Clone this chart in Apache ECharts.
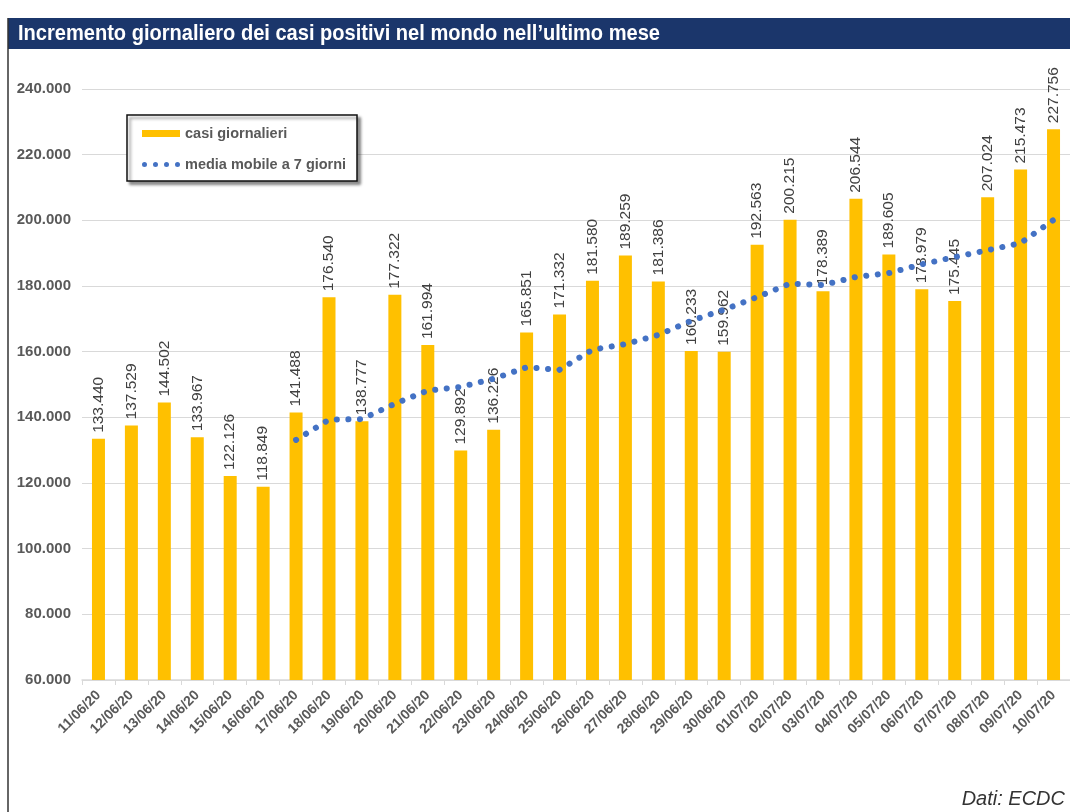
<!DOCTYPE html>
<html>
<head>
<meta charset="utf-8">
<script src="https://cdn.jsdelivr.net/npm/echarts@6/dist/echarts.min.js"></script>
<style>
  html, body { margin: 0; padding: 0; background: #fff; }
  #chart { width: 1070px; height: 812px; }
</style>
</head>
<body>
<div id="chart"></div>
<script>
var dates = [
  "11/06/20", "12/06/20", "13/06/20", "14/06/20", "15/06/20", "16/06/20", "17/06/20",
  "18/06/20", "19/06/20", "20/06/20", "21/06/20", "22/06/20", "23/06/20", "24/06/20",
  "25/06/20", "26/06/20", "27/06/20", "28/06/20", "29/06/20", "30/06/20", "01/07/20",
  "02/07/20", "03/07/20", "04/07/20", "05/07/20", "06/07/20", "07/07/20", "08/07/20",
  "09/07/20", "10/07/20"
];
// casi giornalieri
var dailyCases = [
  133440, 137529, 144502, 133967, 122126, 118849, 141488,
  176540, 138777, 177322, 161994, 129892, 136226, 165851,
  171332, 181580, 189259, 181386, 160233, 159962, 192563,
  200215, 178389, 206544, 189605, 178979, 175445, 207024,
  215473, 227756
];
// media mobile a 7 giorni
var movingAvg = [
  "-", "-", "-", "-", "-", "-", 133130,
  139290, 139460, 144150, 148160, 149270, 151750, 155230,
  154490, 160600, 162310, 165080, 169410, 172800, 176620,
  180740, 180290, 182760, 183930, 186610, 188820, 190890,
  193070, 200120
];
var yTicks = { min: 60000, max: 240000, interval: 20000 };

function fmt(v) {
  return String(v).replace(/\B(?=(\d{3})+(?!\d))/g, ".");
}

var chart = echarts.init(document.getElementById("chart"));
var font = "'Liberation Sans', Arial, Helvetica, sans-serif";
var titleText = "Incremento giornaliero dei casi positivi nel mondo nell\u2019ultimo mese";
var titleFont = "bold 22px " + font;
// il titolo originale e' in un font condensato: lo stringo fino a ~642px
var ctx = document.createElement("canvas").getContext("2d");
ctx.font = titleFont;
var titleScale = 642 / ctx.measureText(titleText).width;

// quattro puntini per la legenda
var dotsIcon = "path://M0,2.5a2.5,2.5 0 1,0 5,0a2.5,2.5 0 1,0 -5,0z" +
  "M11,2.5a2.5,2.5 0 1,0 5,0a2.5,2.5 0 1,0 -5,0z" +
  "M22,2.5a2.5,2.5 0 1,0 5,0a2.5,2.5 0 1,0 -5,0z" +
  "M33,2.5a2.5,2.5 0 1,0 5,0a2.5,2.5 0 1,0 -5,0z";

chart.setOption({
  backgroundColor: "#fff",
  animation: false,
  graphic: [
    { type: "rect", z: -1, shape: { x: 8, y: 18, width: 1062, height: 31 }, style: { fill: "#1b366b" } },
    {
      type: "text", x: 18, y: 34, scaleX: titleScale, scaleY: 1,
      style: { text: titleText, fill: "#fff", font: titleFont, verticalAlign: "middle" }
    },
    { type: "line", shape: { x1: 8, y1: 18, x2: 8, y2: 812 }, style: { stroke: "#333", lineWidth: 1.5 } },
    {
      type: "rect", z: 5,
      shape: { x: 127, y: 115, width: 230, height: 66 },
      style: { fill: "#fff", stroke: "#111", lineWidth: 1.5, shadowColor: "rgba(0,0,0,0.45)", shadowBlur: 3, shadowOffsetX: 3, shadowOffsetY: 3 }
    },
    {
      type: "text", right: 5, bottom: 3,
      style: { text: "Dati: ECDC", fill: "#333", font: "italic 20px " + font }
    }
  ],
  legend: [
    {
      data: ["casi giornalieri"],
      left: 137, top: 121, z: 6,
      icon: "rect", itemWidth: 38, itemHeight: 7, itemGap: 0,
      textStyle: { color: "#595959", fontSize: 14.5, fontWeight: "bold", fontFamily: font }
    },
    {
      data: [{ name: "media mobile a 7 giorni", icon: dotsIcon }],
      left: 137, top: 152, z: 6,
      itemWidth: 38, itemHeight: 5,
      textStyle: { color: "#595959", fontSize: 14.5, fontWeight: "bold", fontFamily: font }
    }
  ],
  grid: { left: 82, right: -3, top: 89, bottom: 132 },
  xAxis: {
    type: "category",
    data: dates,
    axisLine: { lineStyle: { color: "#d9d9d9", width: 1.5 } },
    axisTick: { show: true, length: 5, lineStyle: { color: "#d9d9d9" } },
    axisLabel: {
      rotate: 45, interval: 0, margin: 13,
      color: "#595959", fontSize: 14, fontWeight: "bold", fontFamily: font
    }
  },
  yAxis: {
    type: "value",
    min: yTicks.min, max: yTicks.max, interval: yTicks.interval,
    axisLine: { show: false },
    axisTick: { show: false },
    splitLine: { lineStyle: { color: "#d9d9d9", width: 1 } },
    axisLabel: {
      margin: 11, color: "#595959", fontSize: 15, fontWeight: "bold", fontFamily: font,
      formatter: function (v) { return fmt(v); }
    }
  },
  series: [
    {
      name: "casi giornalieri",
      type: "bar",
      data: dailyCases,
      barWidth: 13,
      itemStyle: { color: "#ffc000" },
      label: {
        show: true, position: "top", rotate: 90, distance: 6,
        align: "left", verticalAlign: "middle",
        color: "#404040", fontSize: 15.5, fontFamily: font,
        formatter: function (p) { return fmt(p.value); }
      }
    },
    {
      name: "media mobile a 7 giorni",
      type: "line",
      data: movingAvg,
      z: 3,
      symbol: "none",
      itemStyle: { color: "#4472c4" },
      lineStyle: { color: "#4472c4", width: 6, type: [0.1, 11.5], cap: "round" }
    }
  ]
});
</script>
</body>
</html>
